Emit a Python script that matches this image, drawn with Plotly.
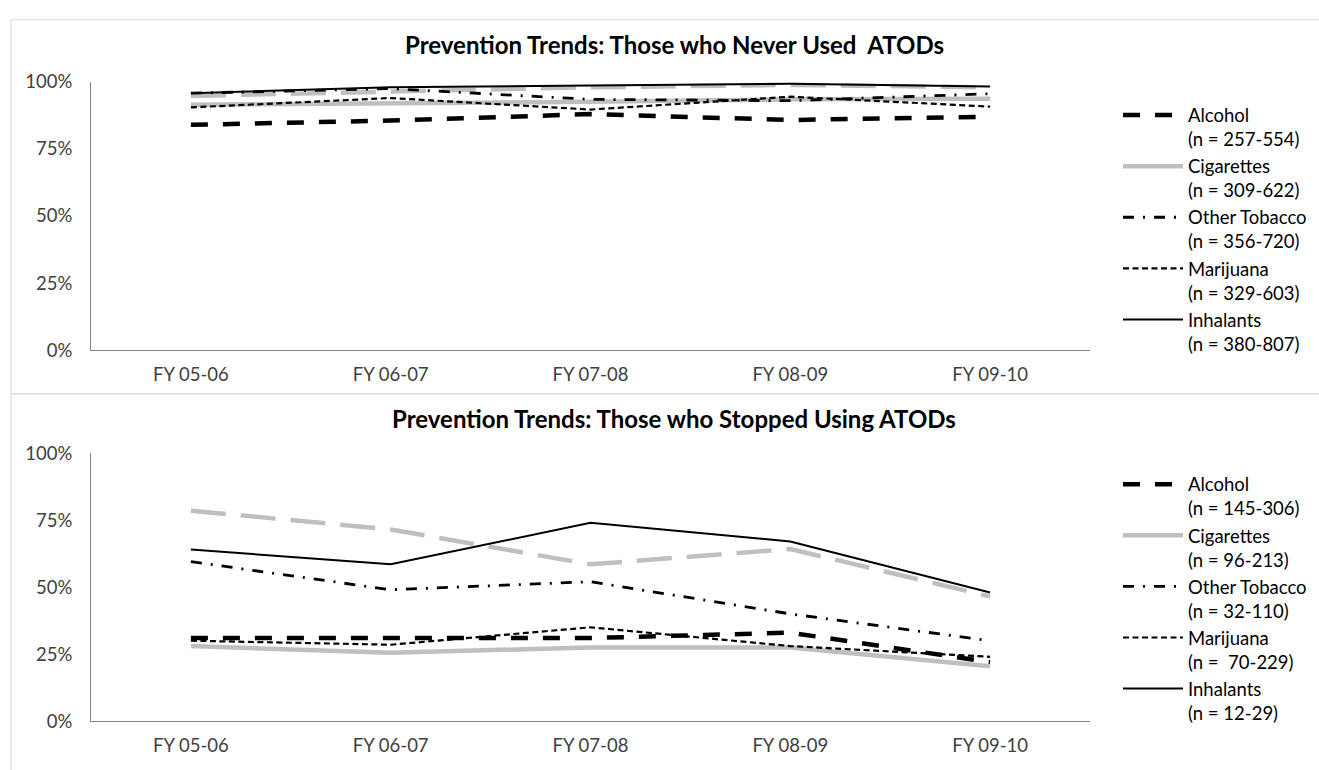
import plotly.graph_objects as go

categories = ["FY 05-06", "FY 06-07", "FY 07-08", "FY 08-09", "FY 09-10"]

# Panel 1: Those who never used ATODs
never_alcohol = [0.84, 0.856, 0.88, 0.858, 0.87]
never_cigarettes = [0.915, 0.92, 0.926, 0.935, 0.937]
never_other_tobacco = [0.958, 0.975, 0.935, 0.93, 0.956]
never_marijuana = [0.905, 0.94, 0.897, 0.945, 0.908]
never_inhalants = [0.958, 0.98, 0.987, 0.993, 0.983]
never_unlabeled = [0.948, 0.965, 0.98, 0.989, 0.98]

# Panel 2: Those who stopped using ATODs
stop_alcohol = [0.31, 0.31, 0.31, 0.33, 0.22]
stop_cigarettes = [0.28, 0.255, 0.275, 0.275, 0.205]
stop_other_tobacco = [0.595, 0.49, 0.52, 0.40, 0.30]
stop_marijuana = [0.30, 0.285, 0.35, 0.28, 0.24]
stop_inhalants = [0.64, 0.585, 0.74, 0.67, 0.48]
stop_unlabeled = [0.785, 0.715, 0.585, 0.642, 0.465]

never_labels = ["Alcohol<br>(n = 257-554)", "Cigarettes<br>(n = 309-622)",
                "Other Tobacco<br>(n = 356-720)", "Marijuana<br>(n = 329-603)",
                "Inhalants<br>(n = 380-807)"]
stop_labels = ["Alcohol<br>(n = 145-306)", "Cigarettes<br>(n = 96-213)",
               "Other Tobacco<br>(n = 32-110)", "Marijuana<br>(n =\u00a0\u00a070-229)",
               "Inhalants<br>(n = 12-29)"]

titles = ["Prevention Trends: Those who Never Used\u00a0\u00a0ATODs",
          "Prevention Trends: Those who Stopped Using ATODs"]

W, H = 1319, 770
FONT = "Lato"
GRAY = "#bfbfbf"
AXIS = "#868686"
FS = 18.5

styles = [
    dict(color="black", width=4.5, dash="17px,15px"),        # Alcohol
    dict(color=GRAY, width=4.5, dash="solid"),               # Cigarettes
    dict(color="black", width=2.8, dash="11px,9px,2px,9px"), # Other Tobacco
    dict(color="black", width=2.2, dash="6px,3.5px"),        # Marijuana
    dict(color="black", width=2.0, dash="solid"),            # Inhalants
]
unl_style = dict(color=GRAY, width=4.5, dash="35px,15px")

fig = go.Figure()

panels = [
    ([never_alcohol, never_cigarettes, never_other_tobacco, never_marijuana, never_inhalants],
     never_unlabeled, never_labels, "x", "y", "legend"),
    ([stop_alcohol, stop_cigarettes, stop_other_tobacco, stop_marijuana, stop_inhalants],
     stop_unlabeled, stop_labels, "x2", "y2", "legend2"),
]

for series, unl, labels, xa, ya, lg in panels:
    fig.add_trace(go.Scatter(x=categories, y=unl, mode="lines", line=unl_style,
                             showlegend=False, xaxis=xa, yaxis=ya, name="Unlabeled",
                             hoverinfo="skip"))
    for i, (vals, lab) in enumerate(zip(series, labels)):
        fig.add_trace(go.Scatter(x=categories, y=vals, mode="lines", line=styles[i],
                                 name=lab, xaxis=xa, yaxis=ya, legend=lg,
                                 legendgroup=f"{lg}_{i}"))

def py(px):
    return 1 - px / H

xdom = [91 / W, 1090 / W]
axis_common = dict(showgrid=False, zeroline=False, showline=True, linecolor=AXIS,
                   linewidth=1, ticks="", tickfont=dict(family=FONT, size=FS, color="#404040"))
yt = dict(range=[0, 1], tickvals=[0, 0.25, 0.5, 0.75, 1], tickformat=".0%",
          ticklabelstandoff=14, **axis_common)
xt = dict(type="category", range=[-0.5, 4.5], ticklabelstandoff=8, **axis_common)
lg_common = dict(xanchor="left", yanchor="top", valign="top",
                 font=dict(family=FONT, size=FS, color="black"), tracegroupgap=12,
                 itemwidth=60, bgcolor="rgba(0,0,0,0)", traceorder="normal")

fig.update_layout(
    width=W, height=H, autosize=False,
    margin=dict(l=0, r=0, t=0, b=0),
    paper_bgcolor="white", plot_bgcolor="white",
    font=dict(family=FONT, size=FS, color="black"),
    xaxis=dict(domain=xdom, anchor="y", **xt),
    yaxis=dict(domain=[py(348), py(72)], anchor="x", **yt),
    xaxis2=dict(domain=xdom, anchor="y2", **xt),
    yaxis2=dict(domain=[py(730), py(454)], anchor="x2", **yt),
    legend=dict(x=1118 / W, y=py(87), **lg_common),
    legend2=dict(x=1118 / W, y=py(467), **lg_common),
    shapes=[
        dict(type="rect", xref="paper", yref="paper", x0=11 / W, x1=1.02, y0=py(393), y1=py(8),
             line=dict(color="#d9d9d9", width=1), layer="below"),
        dict(type="rect", xref="paper", yref="paper", x0=11 / W, x1=1.02, y0=-0.05, y1=py(393),
             line=dict(color="#d9d9d9", width=1), layer="below"),
    ],
    annotations=[
        dict(text=f"<b>{titles[0]}</b>", x=674 / W, y=py(33), xref="paper", yref="paper",
             xanchor="center", yanchor="middle", showarrow=False,
             font=dict(family=FONT, size=24, color="black")),
        dict(text=f"<b>{titles[1]}</b>", x=674 / W, y=py(418), xref="paper", yref="paper",
             xanchor="center", yanchor="middle", showarrow=False,
             font=dict(family=FONT, size=24, color="black")),
    ],
)

fig.write_html("out.html")
